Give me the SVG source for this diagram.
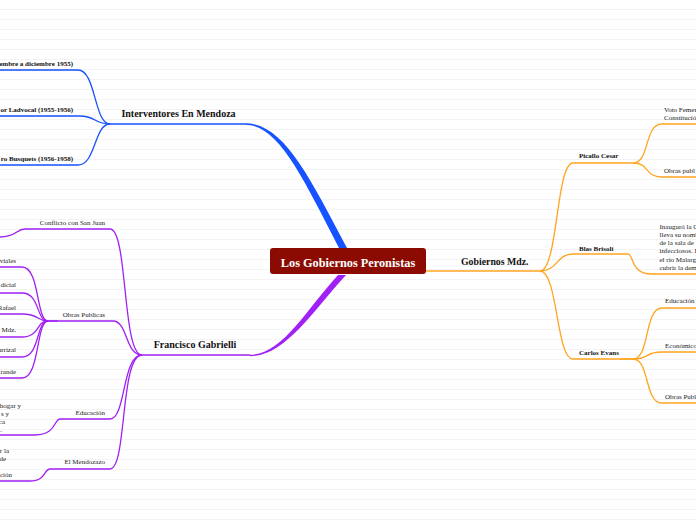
<svg xmlns="http://www.w3.org/2000/svg" width="696" height="520" viewBox="0 0 696 520">
<defs>
<pattern id="lines" patternUnits="userSpaceOnUse" width="696" height="10" y="0">
<rect x="0" y="9" width="696" height="1" fill="#f3f3f3"/>
</pattern>
<style>
.t{font-family:"Liberation Serif","DejaVu Serif",serif;fill:#222}
.b{font-weight:bold;fill:#111}
.s{font-size:7px}
.m{font-size:10px}
.blue{fill:none;stroke:#1652ff;stroke-width:1.3}
.pur{fill:none;stroke:#a020f5;stroke-width:1.3}
.org{fill:none;stroke:#ffa41f;stroke-width:1.3}
</style>
</defs>
<rect width="696" height="520" fill="#fff"/>
<rect width="696" height="520" fill="url(#lines)"/>
<g id="connectors">
<path d="M347,248 C308,174 283,123.2 245,123.2 L245,124.8 C278,124.8 302,176 339,248 Z" fill="#1652ff"/>
<path class="blue" d="M110,124 H245" stroke-width="1.6"/>
<path class="blue" d="M0,70 H78 C96,70 94,124 110,124"/>
<path class="blue" d="M0,116 H80 C96,116 94,124 110,124"/>
<path class="blue" d="M0,165 H78 C96,165 94,124 110,124"/>
<path d="M346,275 C312,312 285,356.2 250,356.2 L250,354.8 C282,354.8 306,310 338,275 Z" fill="#a020f5"/>
<path class="pur" d="M142,355 H250" stroke-width="1.6"/>
<path class="pur" d="M142,355 C122,355 128,229 110,229 H25 C16,229 17,237 0,237"/>
<path class="pur" d="M142,355 C125,355 128,321 113,321 H48"/>
<path class="pur" d="M48,321 H58" stroke-width="2.4"/>
<path class="pur" d="M48,321 C36,321 40,267 22,267 H0"/>
<path class="pur" d="M48,321 C36,321 40,293 22,293 H0"/>
<path class="pur" d="M48,321 C36,321 40,314 22,314 H0"/>
<path class="pur" d="M48,321 C36,321 40,337 22,337 H0"/>
<path class="pur" d="M48,321 C36,321 40,357 22,357 H0"/>
<path class="pur" d="M48,321 C36,321 40,378 22,378 H0"/>
<path class="pur" d="M142,355 C122,355 126,419 110,419 H60 C54,419 56,435 35,435 H0"/>
<path class="pur" d="M142,355 C120,355 127,469 110,469 H50 C44,469 46,481 30,481 H0"/>
<path class="org" d="M426,271 H540" stroke-width="1.6"/>
<path class="org" d="M540,271 C558,271 556,163 573,163 H633"/>
<path class="org" d="M540,271 C558,271 556,254 573,254 H628 C634,254 630,274 652,274 H696"/>
<path class="org" d="M540,271 C558,271 556,359 573,359 H633"/>
<path class="org" d="M633,163 C650,163 644,124 662,124 H696"/>
<path class="org" d="M633,163 C650,163 644,177 662,177 H696"/>
<path class="org" d="M620,359 H633" stroke-width="2.4"/>
<path class="org" d="M633,359 C650,359 644,308 662,308 H696"/>
<path class="org" d="M633,359 C650,359 644,352 662,352 H696"/>
<path class="org" d="M633,359 C650,359 644,403 662,403 H696"/>
</g>
<g id="root">
<rect x="270" y="248" width="156" height="26" rx="3" fill="#8b0b02"/>
<text class="t b" x="348" y="266.5" text-anchor="middle" font-size="12.3" fill="#fff" style="fill:#fff">Los Gobiernos Peronistas</text>
</g>
<g id="interventores">
<text class="t b m" x="178.5" y="116.5" text-anchor="middle">Interventores En Mendoza</text>
</g>
<g id="int1"><text class="t b s" x="73" y="66" text-anchor="end">embre a diciembre 1955)</text></g>
<g id="int2"><text class="t b s" x="73" y="112" text-anchor="end">or Ladvocal (1955-1956)</text></g>
<g id="int3"><text class="t b s" x="73" y="160.5" text-anchor="end">ro Busquets (1956-1958)</text></g>
<g id="gabrielli">
<text class="t b m" x="195" y="348" text-anchor="middle">Francisco Gabrielli</text>
</g>
<g id="conflicto"><text class="t s" x="105" y="225" text-anchor="end">Conflicto con San Juan</text></g>
<g id="obras"><text class="t s" x="105" y="316.5" text-anchor="end">Obras Publicas</text></g>
<g id="ob1"><text class="t s" x="16" y="262.5" text-anchor="end">viales</text></g>
<g id="ob2"><text class="t s" x="16" y="286.5" text-anchor="end">dicial</text></g>
<g id="ob3"><text class="t s" x="16" y="309.5" text-anchor="end">Rafael</text></g>
<g id="ob4"><text class="t s" x="16" y="331.5" text-anchor="end">Mdz.</text></g>
<g id="ob5"><text class="t s" x="16" y="351.5" text-anchor="end">arrizal</text></g>
<g id="ob6"><text class="t s" x="16" y="373.5" text-anchor="end">rande</text></g>
<g id="educacion"><text class="t s" x="105" y="415" text-anchor="end">Educación</text></g>
<g id="edu1">
<text class="t s" x="21" y="407.5" text-anchor="end">hogar y</text>
<text class="t s" x="9" y="415.5" text-anchor="end">s y</text>
<text class="t s" x="5" y="423.5" text-anchor="end">ca</text>
<text class="t s" x="2" y="431.5" text-anchor="end">.</text>
</g>
<g id="mendozazo"><text class="t s" x="105" y="464" text-anchor="end">El Mendozazo</text></g>
<g id="men1">
<text class="t s" x="9" y="452.5" text-anchor="end">r la</text>
<text class="t s" x="6" y="460.5" text-anchor="end">de</text>
<text class="t s" x="12" y="476.5" text-anchor="end">ción</text>
</g>
<g id="gobiernos"><text class="t b" x="461" y="265" font-size="9.8">Gobiernos Mdz.</text></g>
<g id="picallo"><text class="t b s" x="579" y="157.5">Picallo Cesar</text></g>
<g id="voto">
<text class="t s" x="664" y="111.5">Voto Femen</text>
<text class="t s" x="664" y="119.5">Constitució</text>
</g>
<g id="obraspub"><text class="t s" x="664" y="172.5">Obras publ</text></g>
<g id="brisoli"><text class="t b s" x="579" y="251">Blas Brisoli</text></g>
<g id="inaug">
<text class="t s" x="659.5" y="228.5">Inauguró la C</text>
<text class="t s" x="659.5" y="236.8">lleva su nomb</text>
<text class="t s" x="659.5" y="245">de la sala de</text>
<text class="t s" x="659.5" y="253.2">infecciosos. I</text>
<text class="t s" x="659.5" y="261.5">el río Malarg</text>
<text class="t s" x="659.5" y="269.7">cubrir la dem</text>
</g>
<g id="evans"><text class="t b s" x="579" y="355.3">Carlos Evans</text></g>
<g id="ev1"><text class="t s" x="665" y="303">Educación</text></g>
<g id="ev2"><text class="t s" x="665" y="347.5">Económico</text></g>
<g id="ev3"><text class="t s" x="665" y="399">Obras Publ</text></g>
</svg>
